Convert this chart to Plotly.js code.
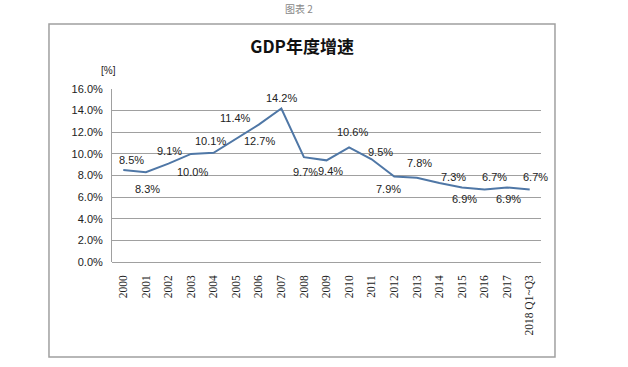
<!DOCTYPE html>
<html>
<head>
<meta charset="utf-8">
<script src="https://cdn.plot.ly/plotly-3.0.1.min.js"></script>
<style>html,body{margin:0;padding:0;background:#fff;}#chart{width:628px;height:367px;}</style>
</head>
<body>
<div id="chart"></div>
<script>
// Data
const categories = ["2000","2001","2002","2003","2004","2005","2006","2007","2008","2009","2010","2011","2012","2013","2014","2015","2016","2017","2018 Q1~Q3"];
const gdpGrowth = [8.5, 8.3, 9.1, 10.0, 10.1, 11.4, 12.7, 14.2, 9.7, 9.4, 10.6, 9.5, 7.9, 7.8, 7.3, 6.9, 6.7, 6.9, 6.7];
const yTickValues = [0, 2, 4, 6, 8, 10, 12, 14, 16];

// Label placement (pixel shifts from each point), as in the reference
const labelShiftX = [8, 2, 1, 1, -3, -1, 1, 0, 2, 4, 3, 9, -6, 3, 14, 3, 10, 1, 6];
const labelShiftY = [10, -17, 13, -18, 12, 21, -16, 10, -15, -11, 15, 7, -12, 15, 6, -12, 13, -12, 13];

const labelAnnotations = categories.map((c, i) => ({
  x: i, y: gdpGrowth[i], xref: 'x', yref: 'y',
  text: gdpGrowth[i].toFixed(1) + '%',
  showarrow: false,
  xanchor: 'center', yanchor: 'middle',
  xshift: labelShiftX[i], yshift: labelShiftY[i],
  font: {family: 'Liberation Sans, Arial, sans-serif', size: 11, color: '#222'}
}));

const data = [{
  x: categories,
  y: gdpGrowth,
  type: 'scatter',
  mode: 'lines',
  line: {color: '#4f77a6', width: 2},
  hoverinfo: 'x+y'
}];

const layout = {
  width: 628, height: 367,
  margin: {l: 112, r: 87, t: 89, b: 105},
  paper_bgcolor: '#fff', plot_bgcolor: '#fff',
  showlegend: false,
  title: {
    text: '<b>GDP年度增速</b>',
    xref: 'container', yref: 'container',
    x: 0.481, y: 0.872, xanchor: 'center', yanchor: 'middle',
    font: {family: 'Noto Sans CJK SC, sans-serif', size: 17, color: '#111'}
  },
  xaxis: {
    type: 'category',
    range: [-0.5, 18.5],
    tickangle: -90,
    tickfont: {family: 'Liberation Serif, serif', size: 11.5, color: '#222'},
    showgrid: false,
    zeroline: false,
    showline: false,
    ticks: '',
    ticklabelstandoff: 10,
    fixedrange: true
  },
  yaxis: {
    range: [0, 16],
    tickvals: yTickValues,
    ticktext: yTickValues.map(v => v.toFixed(1) + '%'),
    tickfont: {family: 'Liberation Sans, Arial, sans-serif', size: 11, color: '#222'},
    showgrid: true, gridcolor: '#a0a0a0', gridwidth: 1,
    zeroline: true, zerolinecolor: '#a0a0a0', zerolinewidth: 1,
    showline: true, linecolor: '#a0a0a0', linewidth: 1,
    ticks: '', ticklabelstandoff: 6,
    fixedrange: true
  },
  shapes: [{
    type: 'rect', xref: 'paper', yref: 'paper',
    x0: -0.1469, x1: 1.0326, y0: -0.549, y1: 1.3757,
    line: {color: '#a0a0a0', width: 1.5}, fillcolor: 'rgba(0,0,0,0)'
  }],
  annotations: labelAnnotations.concat([
    {text: '[%]', xref: 'paper', yref: 'paper', x: -0.009, y: 1.109,
     xanchor: 'center', yanchor: 'middle', showarrow: false,
     font: {family: 'Liberation Sans, Arial, sans-serif', size: 10, color: '#222'}},
    {text: '图表 2', xref: 'paper', yref: 'paper', x: 0.437, y: 1.468,
     xanchor: 'center', yanchor: 'middle', showarrow: false,
     font: {family: 'Noto Sans CJK SC, sans-serif', size: 10, color: '#888'}}
  ])
};

Plotly.newPlot('chart', data, layout, {displayModeBar: false, staticPlot: true});
</script>
</body>
</html>
